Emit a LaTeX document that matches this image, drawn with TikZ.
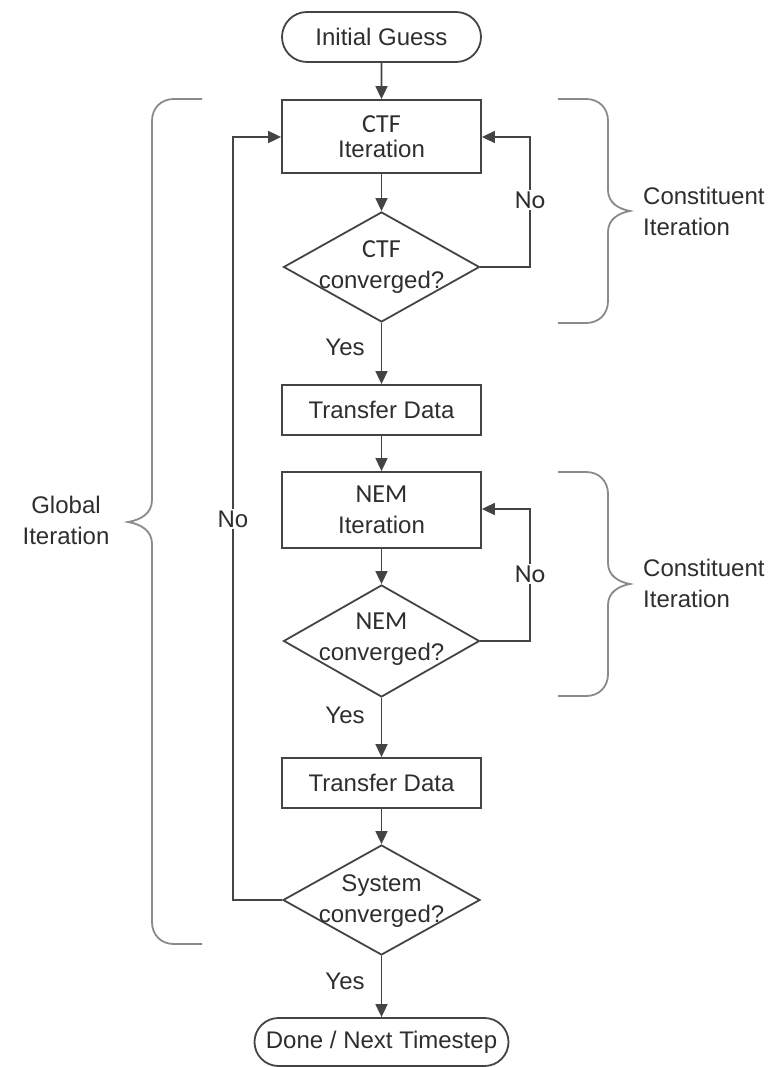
\documentclass[tikz,border=0pt]{standalone}
\usepackage{fontspec}
\setmainfont{Liberation Sans}
\newfontfamily\carl{Carlito}
\usetikzlibrary{shapes.geometric,shapes.misc,arrows.meta}
\definecolor{txtc}{HTML}{2E2E2E}
\definecolor{linec}{HTML}{444444}
\definecolor{bracec}{HTML}{8A8A8A}
\tikzset{
  base/.style={text=txtc, font=\fontsize{24}{31}\selectfont, align=center, inner sep=0pt},
  term/.style={base, draw=linec, line width=1.8pt, rounded rectangle, minimum height=50pt},
  proc/.style={base, draw=linec, line width=1.8pt, rectangle, minimum width=199pt},
  dec/.style={draw=linec, line width=1.8pt, diamond, inner sep=0pt, minimum width=196pt, minimum height=110pt},
  lbl/.style={base},
  nolbl/.style={base, fill=white, inner sep=2pt},
  arr/.style={draw=linec, line width=1.7pt, -{Triangle[length=13pt,width=12pt]}},
  bracepath/.style={draw=bracec, line width=1.8pt},
}
\begin{document}
\begin{tikzpicture}[x=1pt,y=-1pt]
\useasboundingbox (0,0) rectangle (774,1067);
% nodes
\node[term, minimum width=199pt] (init) at (381.5,37) {Initial Guess};
\node[proc, minimum height=73pt] (ctf) at (381.5,136.5) {{\carl\fontsize{26}{31}\selectfont CTF}\\[-6pt]Iteration};
\node[dec] (d1) at (381.5,267) {};
\node[lbl] (d1t) at (381.5,267) {{\carl\fontsize{26}{31}\selectfont CTF}\\converged?};
\node[proc, minimum height=50pt] (td1) at (381.5,410) {Transfer Data};
\node[proc, minimum height=76pt] (nem) at (381.5,510) {{\carl\fontsize{26}{31}\selectfont NEM}\\Iteration};
\node[dec, minimum height=112pt] (d2) at (381.5,641) {};
\node[lbl] (d2t) at (381.5,639) {{\carl\fontsize{26}{31}\selectfont NEM}\\converged?};
\node[proc, minimum height=50pt] (td2) at (381.5,783) {Transfer Data};
\node[dec, minimum width=197pt] (d3) at (381.5,900) {};
\node[lbl] (d3t) at (381.5,901) {System\\converged?};
\node[term, minimum width=254pt, minimum height=48pt] (done) at (381.5,1042) {Done / Next Timestep};
% coordinates for loops
\coordinate (r1) at (530,137);
\coordinate (r2) at (530,509);
\coordinate (l1) at (233,137);
% connectors
\draw[arr] (init) -- (ctf);
\draw[arr] (ctf) -- (d1);
\draw[arr] (d1) -- (td1);
\draw[arr] (td1) -- (nem);
\draw[arr] (nem) -- (d2);
\draw[arr] (d2) -- (td2);
\draw[arr] (td2) -- (d3);
\draw[arr] (d3) -- (done);
\draw[arr] (d1.east) -| (r1) -- (ctf.east |- r1);
\draw[arr] (d2.east) -| (r2) -- (nem.east |- r2);
\draw[arr] (d3.west) -| (l1) -- (ctf.west |- l1);
% labels
\node[nolbl] (no1) at (530,200) {\carl\fontsize{26}{31}\selectfont No};
\node[nolbl] (no2) at (530,574) {\carl\fontsize{26}{31}\selectfont No};
\node[nolbl] (no3) at (233,519) {No};
\node[lbl] (y1) at (345,347) {Yes};
\node[lbl] (y2) at (345,715) {Yes};
\node[lbl] (y3) at (345,981) {Yes};
% braces
\draw[bracepath] (202,99) -- (174,99) .. controls (161,99) and (152,108) .. (152,121) -- (152,500) .. controls (152,514) and (140,520) .. (128,522) .. controls (140,524) and (152,530) .. (152,544) -- (152,922) .. controls (152,935) and (161,944) .. (174,944) -- (202,944);
\draw[bracepath] (558,99) -- (586,99) .. controls (599,99) and (608,108) .. (608,121) -- (608,190) .. controls (608,203) and (619,209) .. (630,211) .. controls (619,213) and (608,219) .. (608,232) -- (608,301) .. controls (608,314) and (599,323) .. (586,323) -- (558,323);
\draw[bracepath] (558,472) -- (586,472) .. controls (599,472) and (608,481) .. (608,494) -- (608,563) .. controls (608,576) and (619,582) .. (630,584) .. controls (619,586) and (608,592) .. (608,605) -- (608,674) .. controls (608,687) and (599,696) .. (586,696) -- (558,696);
\node[lbl, anchor=west, align=left] (ci1) at (643,211) {Constituent\\Iteration};
\node[lbl, anchor=west, align=left] (ci2) at (643,583) {Constituent\\Iteration};
\node[lbl] (gi) at (66,520) {Global\\Iteration};
\end{tikzpicture}
\end{document}
